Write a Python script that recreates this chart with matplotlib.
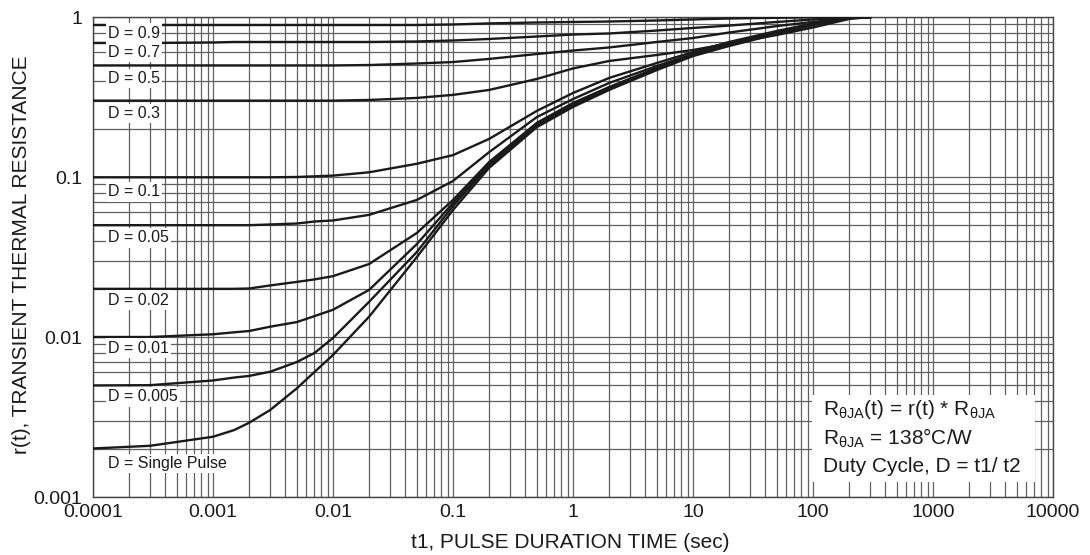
import numpy as np
import matplotlib
matplotlib.use("Agg")
import matplotlib.pyplot as plt
from matplotlib.ticker import FixedLocator, FixedFormatter, LogLocator, NullFormatter
from matplotlib.patches import Rectangle

plt.rcParams['font.family'] = ['Liberation Sans', 'DejaVu Sans']
plt.rcParams['mathtext.fontset'] = 'custom'
plt.rcParams['mathtext.rm'] = 'Liberation Sans'
plt.rcParams['mathtext.it'] = 'Liberation Sans:italic'
plt.rcParams['mathtext.bf'] = 'Liberation Sans:bold'

# pulse duration (sec)
t1 = [1e-4, 3e-4, 1e-3, 1.5e-3, 2e-3, 3e-3, 5e-3, 7e-3, 1e-2, 2e-2, 5e-2, 0.1, 0.2,
      0.5, 1, 2, 5, 10, 20, 50, 100, 200, 300]

# r(t) per duty cycle
d09 = [0.891, 0.891, 0.891, 0.891, 0.891, 0.891, 0.891, 0.891, 0.891, 0.891, 0.891, 0.898, 0.912,
       0.924, 0.931, 0.937, 0.951, 0.965, 0.979, 0.989, 0.996, 1.0, 1.0]
d07 = [0.688, 0.688, 0.693, 0.698, 0.698, 0.698, 0.698, 0.698, 0.698, 0.698, 0.703, 0.713, 0.729,
       0.755, 0.777, 0.789, 0.823, 0.854, 0.884, 0.931, 0.965, 0.993, 1.0]
d05 = [0.498, 0.498, 0.498, 0.498, 0.498, 0.498, 0.498, 0.498, 0.498, 0.501, 0.512, 0.523, 0.547,
       0.587, 0.617, 0.645, 0.698, 0.739, 0.800, 0.878, 0.931, 0.986, 1.0]
d03 = [0.300, 0.300, 0.300, 0.300, 0.300, 0.300, 0.300, 0.300, 0.300, 0.303, 0.312, 0.326, 0.350,
       0.410, 0.477, 0.531, 0.579, 0.622, 0.683, 0.772, 0.860, 0.972, 1.0]
d01 = [0.0996, 0.0996, 0.0996, 0.0996, 0.0996, 0.0996, 0.100, 0.101, 0.102, 0.107, 0.121, 0.137, 0.173,
       0.259, 0.335, 0.416, 0.516, 0.604, 0.698, 0.818, 0.911, 0.986, 1.0]
d005 = [0.050, 0.050, 0.050, 0.050, 0.050, 0.0505, 0.0512, 0.0527, 0.0535, 0.0580, 0.0719, 0.0944, 0.143,
        0.237, 0.307, 0.387, 0.494, 0.587, 0.678, 0.806, 0.904, 0.986, 1.0]
d002 = [0.0200, 0.0200, 0.0200, 0.0200, 0.0201, 0.0210, 0.0221, 0.0229, 0.0240, 0.0286, 0.0447, 0.0719, 0.124,
        0.218, 0.290, 0.365, 0.480, 0.583, 0.673, 0.800, 0.904, 0.986, 1.0]
d001 = [0.0100, 0.0100, 0.0104, 0.0107, 0.0109, 0.0116, 0.0124, 0.0135, 0.0148, 0.0197, 0.0381, 0.0688, 0.121,
        0.214, 0.286, 0.363, 0.477, 0.579, 0.668, 0.794, 0.898, 0.986, 1.0]
d0005 = [0.00498, 0.0050, 0.00535, 0.00558, 0.00571, 0.00607, 0.00698, 0.00794, 0.00986, 0.0166, 0.0340, 0.0659, 0.118,
         0.210, 0.281, 0.357, 0.473, 0.575, 0.664, 0.790, 0.895, 0.986, 1.0]
single = [0.00201, 0.00209, 0.00238, 0.00262, 0.00291, 0.00350, 0.00478, 0.00604, 0.00772, 0.0134, 0.0316, 0.0622, 0.114,
          0.205, 0.274, 0.350, 0.466, 0.570, 0.659, 0.783, 0.891, 0.986, 1.0]

curves = [d09, d07, d05, d03, d01, d005, d002, d001, d0005, single]
curve_labels = ["D = 0.9", "D = 0.7", "D = 0.5", "D = 0.3", "D = 0.1",
                "D = 0.05", "D = 0.02", "D = 0.01", "D = 0.005", "D = Single Pulse"]

x_ticks = [1e-4, 1e-3, 1e-2, 1e-1, 1, 10, 100, 1000, 10000]
x_tick_labels = ["0.0001", "0.001", "0.01", "0.1", "1", "10", "100", "1000", "10000"]
y_ticks = [1e-3, 1e-2, 1e-1, 1]
y_tick_labels = ["0.001", "0.01", "0.1", "1"]

fig = plt.figure(figsize=(10.9, 5.55), dpi=100)
ax = fig.add_axes([93 / 1090, 1 - 497 / 555, 960 / 1090, 480 / 555])

for ys in curves:
    ax.plot(t1, ys, color='#1a1a1a', lw=1.7, zorder=3, solid_joinstyle='round')

ax.set_xscale('log')
ax.set_yscale('log')
ax.set_xlim(1e-4, 1e4)
ax.set_ylim(1e-3, 1)

ax.xaxis.set_major_locator(FixedLocator(x_ticks))
ax.xaxis.set_major_formatter(FixedFormatter(x_tick_labels))
ax.yaxis.set_major_locator(FixedLocator(y_ticks))
ax.yaxis.set_major_formatter(FixedFormatter(y_tick_labels))
for axis in (ax.xaxis, ax.yaxis):
    axis.set_minor_locator(LogLocator(base=10, subs=np.arange(2, 10), numticks=100))
    axis.set_minor_formatter(NullFormatter())

ax.set_axisbelow(True)
ax.grid(which='both', color='#606060', lw=0.9)
ax.tick_params(which='both', length=0, labelsize=14, colors='#1a1a1a')
ax.tick_params(axis='x', pad=5)
ax.tick_params(axis='y', pad=8)
for sp in ax.spines.values():
    sp.set_color('#444444')
    sp.set_linewidth(1.0)

# curve labels (axes fraction positions)
label_y = [0.966, 0.926, 0.872, 0.799, 0.636, 0.540, 0.410, 0.310, 0.209, 0.070]
for txt, yy in zip(curve_labels, label_y):
    ax.text(0.0156, yy, txt, transform=ax.transAxes, fontsize=11.5,
            ha='left', va='center', color='#1a1a1a', zorder=4,
            bbox=dict(facecolor='white', edgecolor='none', boxstyle='square,pad=0.15'))

# note box
ax.add_patch(Rectangle((0.749, 0.031), 0.232, 0.181, transform=ax.transAxes,
                       facecolor='white', edgecolor='none', zorder=4))
notes = [r'R$_\mathrm{θJA}$(t) = r(t) * R$_\mathrm{θJA}$',
         r'R$_\mathrm{θJA}$ = 138°C/W',
         'Duty Cycle, D = t1/ t2']
for txt, yy in zip(notes, [0.171, 0.110, 0.052]):
    ax.text(0.760, yy, txt, transform=ax.transAxes, fontsize=15,
            ha='left', va='baseline', color='#1a1a1a', zorder=5)

fig.text(0.0193, 0.5414, 'r(t), TRANSIENT THERMAL RESISTANCE', rotation=90,
         ha='center', va='center', fontsize=15, color='#1a1a1a')
fig.text(0.523, 0.0126, 't1, PULSE DURATION TIME (sec)',
         ha='center', va='baseline', fontsize=15, color='#1a1a1a')

fig.savefig('out.png', dpi=100)
